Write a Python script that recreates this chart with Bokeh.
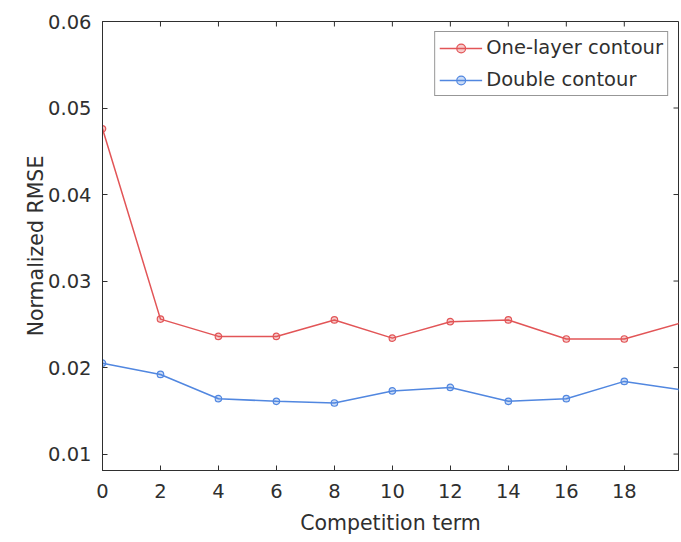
import math
from bokeh.plotting import figure
from bokeh.models import Range1d, FixedTicker, Legend, LegendItem
from bokeh.embed import file_html
from bokeh.resources import INLINE

terms = [0, 2, 4, 6, 8, 10, 12, 14, 16, 18, 20]
one_layer = [0.0476, 0.0256, 0.0236, 0.0236, 0.0255, 0.0234, 0.0253, 0.0255, 0.0233, 0.0233, 0.0252]
double = [0.0205, 0.0192, 0.0164, 0.0161, 0.0159, 0.0173, 0.0177, 0.0161, 0.0164, 0.0184, 0.0174]
x_ticks = [0, 2, 4, 6, 8, 10, 12, 14, 16, 18]
y_ticks = [0.01, 0.02, 0.03, 0.04, 0.05, 0.06]

X_MIN, X_MAX = 0, 19.87
Y_MIN, Y_MAX = 0.0081, 0.06

RED = "#e25557"
BLUE = "#5187e0"
AX = "#2f2f2f"
FONT = "DejaVu Sans"

p = figure(width=681, height=542, output_backend="svg", toolbar_location=None,
           x_range=Range1d(X_MIN, X_MAX), y_range=Range1d(Y_MIN, Y_MAX),
           min_border_left=102, min_border_right=3, min_border_top=21, min_border_bottom=72)
p.background_fill_color = "white"
p.border_fill_color = "white"
p.outline_line_color = AX
p.outline_line_width = 1
p.xgrid.visible = False
p.ygrid.visible = False

r1 = p.line(terms, one_layer, line_color=RED, line_width=1.5)
m1 = p.scatter(terms, one_layer, marker="circle", size=6.5, line_color=RED, fill_color=RED, fill_alpha=0.3, line_width=1.2)
r2 = p.line(terms, double, line_color=BLUE, line_width=1.5)
m2 = p.scatter(terms, double, marker="circle", size=6.5, line_color=BLUE, fill_color=BLUE, fill_alpha=0.3, line_width=1.2)

# inward ticks on the right and top sides of the box
p.ray(x=[X_MAX] * len(y_ticks), y=y_ticks, length=5, length_units="screen",
      angle=math.pi, line_color=AX, line_width=1)
p.ray(x=x_ticks, y=[Y_MAX] * len(x_ticks), length=5, length_units="screen",
      angle=-math.pi / 2, line_color=AX, line_width=1)

for ax in (p.xaxis[0], p.yaxis[0]):
    ax.major_tick_in = 5
    ax.major_tick_out = 0
    ax.minor_tick_line_color = None
    ax.axis_line_color = AX
    ax.major_tick_line_color = AX
    ax.major_label_text_font = FONT
    ax.major_label_text_font_size = "19.5px"
    ax.major_label_text_color = AX
    ax.axis_label_text_font = FONT
    ax.axis_label_text_font_size = "20.5px"
    ax.axis_label_text_font_style = "normal"
    ax.axis_label_text_color = AX

p.xaxis[0].ticker = FixedTicker(ticks=x_ticks)
p.yaxis[0].ticker = FixedTicker(ticks=y_ticks)
p.xaxis[0].axis_label = "Competition term"
p.yaxis[0].axis_label = "Normalized RMSE"
p.xaxis[0].major_label_standoff = 13
p.xaxis[0].axis_label_standoff = 10
p.yaxis[0].major_label_standoff = 11
p.yaxis[0].axis_label_standoff = -3

legend = Legend(items=[LegendItem(label="One-layer contour", renderers=[r1, m1]),
                       LegendItem(label="Double contour", renderers=[r2, m2])],
                location="top_right")
legend.label_text_font = FONT
legend.label_text_font_size = "19.5px"
legend.label_text_color = AX
legend.border_line_color = AX
legend.border_line_width = 1
legend.glyph_width = 43
legend.glyph_height = 22
legend.label_height = 22
legend.label_standoff = 4
legend.spacing = 9
legend.padding = 4
legend.margin = 10
p.add_layout(legend)

open("out.html", "w").write(file_html(p, INLINE))
